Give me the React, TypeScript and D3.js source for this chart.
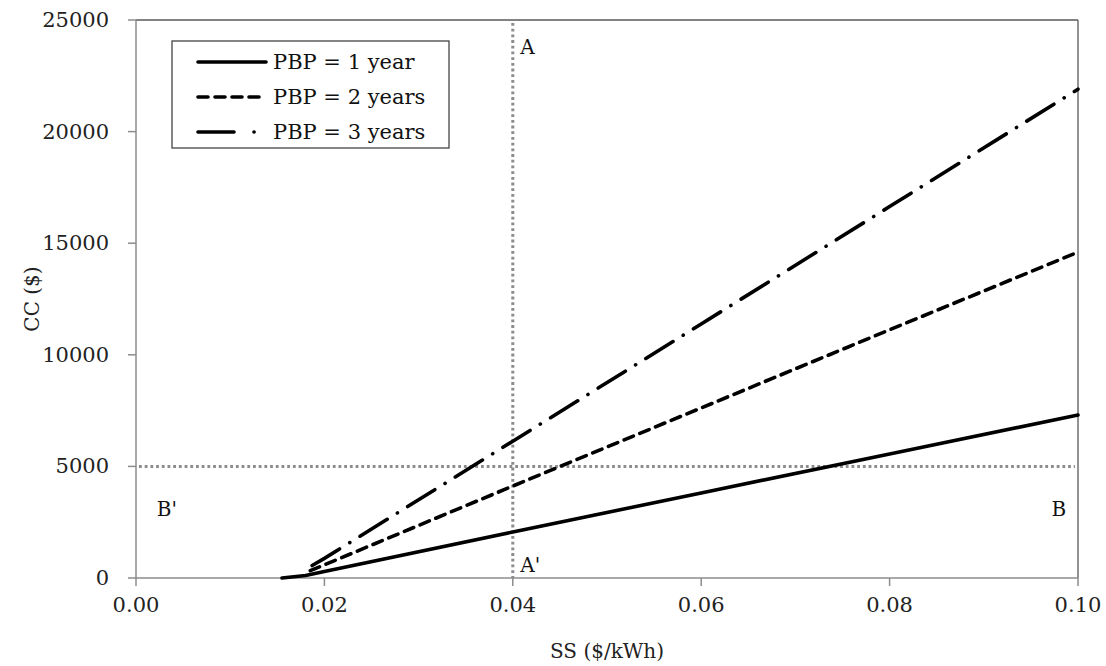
import React from "react";
import * as d3 from "d3";

const ssTicks = [0, 0.02, 0.04, 0.06, 0.08, 0.1];
const ccTicks = [0, 5000, 10000, 15000, 20000, 25000];

const seriesNames = ["PBP = 1 year", "PBP = 2 years", "PBP = 3 years"];
const pbp1 = [
  { ss: 0.0155, cc: 0 },
  { ss: 0.018, cc: 110 },
  { ss: 0.02, cc: 290 },
  { ss: 0.04, cc: 2060 },
  { ss: 0.06, cc: 3810 },
  { ss: 0.08, cc: 5560 },
  { ss: 0.1, cc: 7300 },
];
const pbp2 = [
  { ss: 0.0185, cc: 330 },
  { ss: 0.02, cc: 590 },
  { ss: 0.04, cc: 4120 },
  { ss: 0.06, cc: 7620 },
  { ss: 0.08, cc: 11120 },
  { ss: 0.1, cc: 14600 },
];
const pbp3 = [
  { ss: 0.0187, cc: 560 },
  { ss: 0.02, cc: 880 },
  { ss: 0.04, cc: 6130 },
  { ss: 0.06, cc: 11380 },
  { ss: 0.08, cc: 16640 },
  { ss: 0.1, cc: 21900 },
];
const refSS = 0.04;
const refCC = 5000;
const annotations = [
  { label: "A", ss: 0.0408, cc: 23800 },
  { label: "A'", ss: 0.0408, cc: 600 },
  { label: "B'", ss: 0.0022, cc: 3100 },
  { label: "B", ss: 0.0972, cc: 3100 },
];

const W = 1106;
const H = 666;
const M = { left: 136, right: 1078, top: 20, bottom: 578 };
const FONT = "'DejaVu Serif', serif";

export default function App() {
  const x = d3.scaleLinear().domain([0, 0.1]).range([M.left, M.right]);
  const y = d3.scaleLinear().domain([0, 25000]).range([M.bottom, M.top]);
  const line = d3
    .line<{ ss: number; cc: number }>()
    .x((d) => x(d.ss))
    .y((d) => y(d.cc));

  const series = [
    { name: seriesNames[0], data: pbp1, dash: "none", legDash: "none" },
    { name: seriesNames[1], data: pbp2, dash: "10 7", legDash: "10 7" },
    { name: seriesNames[2], data: pbp3, dash: "32 12 0.1 12", legDash: "36 20 0.1 20" },
  ];

  return (
    <svg
      width={W}
      height={H}
      style={{ position: "absolute", left: 0, top: 0, background: "#fff" }}
      fontFamily={FONT}
    >
      <rect x={0} y={0} width={W} height={H} fill="#fff" />
      <line x1={M.left} x2={M.right} y1={M.top} y2={M.top} stroke="#595959" strokeWidth={1.3} />
      <line x1={M.right} x2={M.right} y1={M.top} y2={M.bottom} stroke="#595959" strokeWidth={1.3} />
      <line x1={M.left} x2={M.left} y1={M.top} y2={M.bottom} stroke="#8c8c8c" strokeWidth={1.5} />
      <line x1={M.left} x2={M.right} y1={M.bottom} y2={M.bottom} stroke="#8c8c8c" strokeWidth={1.5} />
      {ccTicks.map((t) => (
        <g key={"y" + t}>
          <line x1={M.left - 8} x2={M.left} y1={y(t)} y2={y(t)} stroke="#8c8c8c" strokeWidth={1.5} />
          <text x={M.left - 27} y={y(t)} textAnchor="end" dominantBaseline="central" fontSize={21} fill="#222">
            {t}
          </text>
        </g>
      ))}
      {ssTicks.map((t) => (
        <g key={"x" + t}>
          <line x1={x(t)} x2={x(t)} y1={M.bottom} y2={M.bottom + 8} stroke="#8c8c8c" strokeWidth={1.5} />
          <text x={x(t)} y={M.bottom + 27} textAnchor="middle" dominantBaseline="central" fontSize={21} fill="#222">
            {t.toFixed(2)}
          </text>
        </g>
      ))}
      <text x={607} y={651} textAnchor="middle" dominantBaseline="central" fontSize={20} fill="#222">
        SS ($/kWh)
      </text>
      <text
        transform={`translate(32, 299) rotate(-90)`}
        textAnchor="middle"
        dominantBaseline="central"
        fontSize={20}
        fill="#222"
      >
        CC ($)
      </text>
      <line
        x1={x(refSS)}
        x2={x(refSS)}
        y1={M.top + 3}
        y2={M.bottom}
        stroke="#8c8c8c"
        strokeWidth={3}
        strokeDasharray="2.8 2.9"
      />
      <line
        x1={M.left + 3}
        x2={M.right - 3}
        y1={y(refCC)}
        y2={y(refCC)}
        stroke="#8c8c8c"
        strokeWidth={3}
        strokeDasharray="2.8 2.9"
      />
      {series.map((s) => (
        <path
          key={s.name}
          d={line(s.data) || ""}
          fill="none"
          stroke="#000"
          strokeWidth={3.6}
          strokeDasharray={s.dash}
          strokeLinecap="round"
        />
      ))}
      {annotations.map((a) => (
        <text key={a.label} x={x(a.ss)} y={y(a.cc)} dominantBaseline="central" fontSize={20} fill="#111">
          {a.label}
        </text>
      ))}
      <rect x={172} y={41} width={277} height={107} fill="#fff" stroke="#444" strokeWidth={1.3} />
      {series.map((s, i) => (
        <g key={"lg" + i}>
          <line
            x1={198}
            x2={266}
            y1={62 + i * 35}
            y2={62 + i * 35}
            stroke="#000"
            strokeWidth={3.6}
            strokeDasharray={s.legDash}
            strokeLinecap="round"
          />
          <text x={273} y={62 + i * 35} dominantBaseline="central" fontSize={21} fill="#111">
            {s.name}
          </text>
        </g>
      ))}
    </svg>
  );
}
